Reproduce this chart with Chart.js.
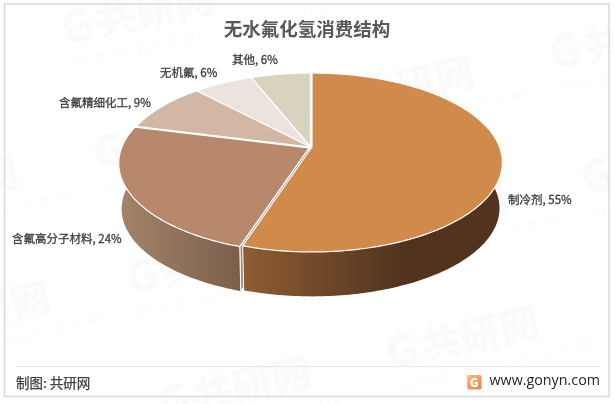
<!DOCTYPE html>
<html>
<head>
<meta charset="utf-8">
<style>
  html, body { margin: 0; padding: 0; background: #fff; }
  canvas { display: block; }
</style>
<script src="https://cdn.jsdelivr.net/npm/chart.js@4"></script>
</head>
<body>
<canvas id="pie3d" width="614" height="404"></canvas>
<script>
// ---------------- DATA -----------------------------
const categories = ["制冷剂", "含氟高分子材料", "含氟精细化工", "无机氟", "其他"];
const shares = [55, 24, 9, 6, 6];
const sliceColors = ["#D08A4C", "#B7886B", "#D2B7A4", "#EAE3DE", "#D8D3BF"];

const FONT = '"Noto Sans CJK SC", "Noto Sans", sans-serif';

// where the data labels sit (left edge, middle)
const labelPos = [[508, 200], [12, 239], [59, 103], [160, 73], [232, 60]];

// ---------------- 3D PROJECTION -----------------------------
// unit disc -> screen, with a bit of perspective so the centre sits above the ellipse middle
const cx = 311.5, cy = 147, ax = 187.5, by = 86.8, persp = 0.173;
const depth = 46, lowScale = 0.985;

// theta: clockwise from 12 o'clock, level 0 = top face, 1 = bottom face
function project(theta, r, level, shift) {
  const u = Math.sin(theta) * r;
  const v = -Math.cos(theta) * r;
  const w = 1 - persp * v;
  const s = level ? lowScale : 1;
  return [
    cx + shift[0] + (s * ax * u) / w,
    cy + shift[1] + (level ? depth : 0) + (s * by * v) / w,
  ];
}

function trace(ctx, points) {
  points.forEach((p, i) => (i ? ctx.lineTo(p[0], p[1]) : ctx.moveTo(p[0], p[1])));
}

function rim(a0, a1, level, shift) {
  const pts = [];
  const steps = Math.max(2, Math.ceil((a1 - a0) * 60));
  for (let i = 0; i <= steps; i++) {
    pts.push(project(a0 + ((a1 - a0) * i) / steps, 1, level, shift));
  }
  return pts;
}

// small gap between the two big slices
const sliceShift = [[0.5, 0], [-2.4, 0.8], [-1, 0], [-1, 0], [-1, 0]];

function wallGradient(ctx, i) {
  const g = ctx.createLinearGradient(i === 0 ? 243 : 120, 0, i === 0 ? 400 : 240, 0);
  if (i === 0) {
    g.addColorStop(0, "#8E5D33");
    g.addColorStop(1, "#52341E");
  } else {
    g.addColorStop(0, "#A3846A");
    g.addColorStop(1, "#7B5F4B");
  }
  return g;
}

const pie3dPlugin = {
  id: "pie3d",
  beforeDatasetsDraw(chart) {
    const ctx = chart.ctx;
    const arcs = chart.getDatasetMeta(0).data;
    const front0 = Math.PI / 3, front1 = (Math.PI * 5) / 3;
    // back slices first, the big slice last
    for (let i = arcs.length - 1; i >= 0; i--) {
      const a0 = arcs[i].startAngle + Math.PI / 2;
      const a1 = arcs[i].endAngle + Math.PI / 2;
      const shift = sliceShift[i];
      ctx.save();
      ctx.lineJoin = "round";

      const w0 = Math.max(a0, front0), w1 = Math.min(a1, front1);
      if (w1 > w0) {
        // cut face, only the second slice shows one
        if (i === 1) {
          const apexT = project(a0, 0, 0, shift), apexB = project(a0, 0, 1, shift);
          ctx.beginPath();
          trace(ctx, [apexT, project(a0, 1, 0, shift), project(a0, 1, 1, shift), apexB]);
          ctx.closePath();
          ctx.fillStyle = "#A58A76";
          ctx.fill();
          ctx.strokeStyle = "#fff";
          ctx.lineWidth = 1;
          ctx.stroke();
        }
        const top = rim(w0, w1, 0, shift), low = rim(w0, w1, 1, shift).reverse();
        ctx.beginPath();
        trace(ctx, top.concat(low));
        ctx.closePath();
        ctx.fillStyle = wallGradient(ctx, i);
        ctx.fill();
        // white seams at the gap only
        ctx.strokeStyle = "#fff";
        ctx.lineWidth = 1;
        ctx.beginPath();
        if (i === 1) trace(ctx, [project(a0, 1, 0, shift), project(a0, 1, 1, shift)]);
        if (i === 0) trace(ctx, [project(a1, 1, 0, shift), project(a1, 1, 1, shift)]);
        ctx.stroke();
      }

      // top face
      const apex = project(0, 0, 0, shift);
      ctx.beginPath();
      trace(ctx, [apex].concat(rim(a0, a1, 0, shift)));
      ctx.closePath();
      ctx.fillStyle = sliceColors[i];
      ctx.fill();
      ctx.strokeStyle = "#fff";
      ctx.lineWidth = 1.2;
      ctx.stroke();
      ctx.restore();
    }
    return false; // the flat arcs are replaced by the projected ones
  },
  afterDraw(chart) {
    const ctx = chart.ctx;
    ctx.save();
    ctx.textBaseline = "middle";
    ctx.textAlign = "left";
    ctx.fillStyle = "#404040";
    ctx.strokeStyle = "#404040";
    ctx.lineWidth = 0.3;
    ctx.font = "400 11.5px " + FONT;
    categories.forEach((c, i) => {
      const text = c + ", " + shares[i] + "%";
      ctx.fillText(text, labelPos[i][0], labelPos[i][1]);
      ctx.strokeText(text, labelPos[i][0], labelPos[i][1]);
    });
    ctx.restore();
  },
};

// ---------------- PAGE FURNITURE -----------------------------
const watermarkSpots = [
  [65, 45], [97, 170], [130, 295], [162, 420],
  [293, -5], [325, 120], [358, 245], [390, 370],
  [553, 70], [585, 195],
  [-131, 220], [-99, 345],
];

const backdropPlugin = {
  id: "backdrop",
  beforeDraw(chart) {
    const ctx = chart.ctx;
    ctx.save();
    ctx.fillStyle = "#fff";
    ctx.fillRect(0, 0, 614, 404);
    ctx.fillStyle = "rgba(0,0,0,0.02)";
    ctx.textBaseline = "alphabetic";
    watermarkSpots.forEach(([x, y]) => {
      ctx.save();
      ctx.translate(x, y);
      ctx.rotate((-13 * Math.PI) / 180);
      ctx.font = "900 44px " + FONT;
      ctx.fillText("G", 0, 0);
      ctx.font = "900 40px " + FONT;
      ctx.fillText("共研网", 36, 0);
      ctx.font = "400 16px " + FONT;
      ctx.letterSpacing = "6px";
      ctx.fillText("www.gonyn.com", 4, 24);
      ctx.restore();
    });
    ctx.restore();
  },
  afterDraw(chart) {
    const ctx = chart.ctx;
    ctx.save();
    ctx.strokeStyle = "#D9D9D9";
    ctx.lineWidth = 1.5;
    ctx.strokeRect(4.5, 4, 604.5, 392.5);
    ctx.strokeStyle = "#E6E6E6";
    ctx.lineWidth = 1;
    ctx.beginPath();
    ctx.moveTo(16, 366.5);
    ctx.lineTo(600, 366.5);
    ctx.stroke();

    ctx.textBaseline = "middle";
    ctx.fillStyle = "#404040";
    ctx.strokeStyle = "#404040";
    ctx.lineWidth = 0.25;
    ctx.font = "400 13.5px " + FONT;
    ctx.fillText("制图: 共研网", 16, 383);
    ctx.strokeText("制图: 共研网", 16, 383);

    // logo
    const g = ctx.createLinearGradient(467, 375, 481, 389);
    g.addColorStop(0, "#F9C27A");
    g.addColorStop(1, "#EE7C50");
    ctx.fillStyle = g;
    ctx.beginPath();
    ctx.roundRect(467, 375, 14.5, 14.5, 2);
    ctx.fill();
    ctx.fillStyle = "#fff";
    ctx.font = "900 12px " + FONT;
    ctx.textAlign = "center";
    ctx.fillText("G", 474.2, 382.2);

    ctx.textAlign = "left";
    ctx.fillStyle = "#262626";
    ctx.font = '400 14.3px "Open Sans", sans-serif';
    ctx.fillText("www.gonyn.com", 489.5, 381);
    ctx.restore();
  },
};

// ---------------- CHART -----------------------------
const pieChart = new Chart(document.getElementById("pie3d"), {
  type: "pie",
  data: {
    labels: categories,
    datasets: [{ data: shares, backgroundColor: sliceColors }],
  },
  options: {
    responsive: false,
    animation: false,
    events: [],
    plugins: {
      legend: { display: false },
      tooltip: { enabled: false },
      title: {
        display: true,
        text: "无水氟化氢消费结构",
        color: "#595959",
        font: { family: FONT, size: 18.5, weight: "bold" },
        padding: { top: 18, bottom: 0 },
      },
    },
  },
  plugins: [backdropPlugin, pie3dPlugin],
});
</script>
</body>
</html>
